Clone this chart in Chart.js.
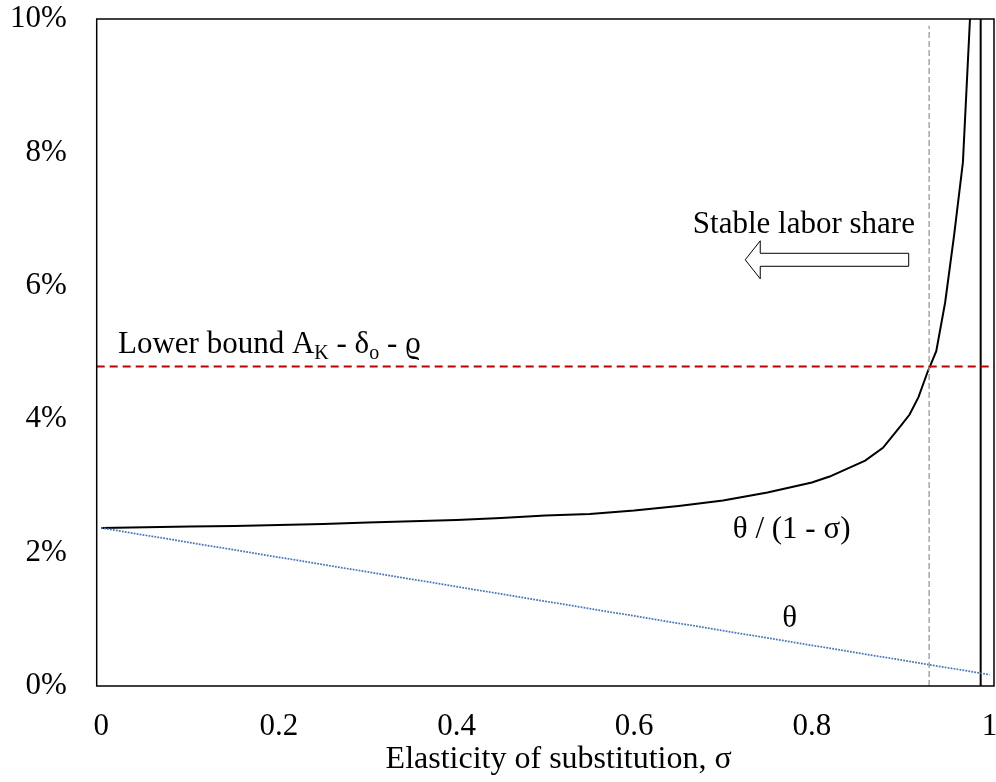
<!DOCTYPE html>
<html>
<head>
<meta charset="utf-8">
<script src="https://cdn.jsdelivr.net/npm/chart.js@4.4.1/dist/chart.umd.min.js"></script>
<style>
  html, body { margin: 0; padding: 0; background: #fff; }
</style>
</head>
<body>
<canvas id="chart" width="996" height="782"></canvas>
<script>
// theta / (1 - sigma) (percent)
const CURVE_SIGMA = [0, 0.05, 0.1, 0.15, 0.2, 0.25, 0.3, 0.35, 0.4, 0.45, 0.5, 0.55, 0.6, 0.65, 0.7, 0.75,
  0.8, 0.82, 0.84, 0.86, 0.88, 0.9, 0.91, 0.92, 0.93, 0.94, 0.95, 0.96, 0.97, 0.98];
const CURVE_VALUES = [2.37, 2.38, 2.39, 2.40, 2.415, 2.43, 2.45, 2.47, 2.49, 2.52, 2.555, 2.58, 2.63, 2.70, 2.78, 2.90,
  3.05, 3.14, 3.26, 3.38, 3.57, 3.90, 4.07, 4.33, 4.70, 5.02, 5.75, 6.75, 7.85, 10.55];

// theta (percent)
const THETA_SIGMA = [0, 0.1, 0.2, 0.3, 0.4, 0.5, 0.6, 0.7, 0.8, 0.9, 1];
const THETA_VALUES = [2.37, 2.15, 1.93, 1.71, 1.49, 1.27, 1.05, 0.83, 0.61, 0.39, 0.17];

const LOWER_BOUND = 4.79;      // A_K - delta_o - rho
const CROSS_SIGMA = 0.932;     // where the curve meets the lower bound
const CROSS_TOP = 9.9;
const ASYMPTOTE_SIGMA = 0.99;

const X_TICKS = [0, 0.2, 0.4, 0.6, 0.8, 1];
const Y_TICKS = [0, 2, 4, 6, 8, 10];
const X_MIN = -0.005, X_MAX = 1.005;
const X_TITLE = 'Elasticity of substitution, σ';

const SERIF = '"Liberation Serif", "DejaVu Serif", serif';

const pairs = (xs, ys) => xs.map((x, i) => ({ x, y: ys[i] }));
const noPad = s => { s.paddingTop = 0; s.paddingBottom = 0; s.paddingLeft = 0; s.paddingRight = 0; };

// frame, arrow, axis title and text labels
const annotations = {
  id: 'annotations',
  afterDatasetsDraw(chart) {
    const { ctx, chartArea: a, scales: { x, y } } = chart;
    ctx.save();

    ctx.strokeStyle = '#000';
    ctx.lineWidth = 1.5;
    ctx.strokeRect(a.left, a.top, a.right - a.left, a.bottom - a.top);

    // hollow arrow pointing left
    const tipX = x.getPixelForValue(0.725), tailX = x.getPixelForValue(0.909), cy = y.getPixelForValue(6.39);
    const headLen = 15, headH = 19, shaftH = 6.5;
    ctx.beginPath();
    ctx.moveTo(tipX, cy);
    ctx.lineTo(tipX + headLen, cy - headH);
    ctx.lineTo(tipX + headLen, cy - shaftH);
    ctx.lineTo(tailX, cy - shaftH);
    ctx.lineTo(tailX, cy + shaftH);
    ctx.lineTo(tipX + headLen, cy + shaftH);
    ctx.lineTo(tipX + headLen, cy + headH);
    ctx.closePath();
    ctx.fillStyle = '#fff';
    ctx.fill();
    ctx.lineWidth = 1;
    ctx.stroke();

    ctx.fillStyle = '#000';
    ctx.textBaseline = 'alphabetic';
    const rich = (parts, sx, sy, align) => {
      let px = x.getPixelForValue(sx);
      const py = y.getPixelForValue(sy);
      if (align === 'center') {
        let w = 0;
        for (const [t, sub] of parts) { ctx.font = `${sub ? 20 : 31}px ${SERIF}`; w += ctx.measureText(t).width; }
        px -= w / 2;
      }
      ctx.textAlign = 'left';
      for (const [t, sub] of parts) {
        ctx.font = `${sub ? 20 : 31}px ${SERIF}`;
        ctx.fillText(t, px, sub ? py + 6 : py);
        px += ctx.measureText(t).width;
      }
    };
    rich([['Lower bound A'], ['K', true], [' - δ'], ['o', true], [' - ϱ']], 0.019, 4.99);
    rich([['Stable labor share']], 0.666, 6.79);
    rich([['θ / (1 - σ)']], 0.711, 2.22);
    rich([['θ']], 0.775, 0.885, 'center');

    // x axis title, sits a little right of the plot centre as in the original
    ctx.font = `32px ${SERIF}`;
    ctx.textAlign = 'center';
    ctx.fillText(X_TITLE, x.getPixelForValue(0.515), a.bottom + 82);
    ctx.restore();
  }
};

new Chart(document.getElementById('chart'), {
  type: 'line',
  data: {
    datasets: [
      {
        label: 'lower bound',
        data: pairs([X_MIN, X_MAX], [LOWER_BOUND, LOWER_BOUND]),
        borderColor: '#c00000',
        borderWidth: 2,
        borderDash: [8, 5],
        pointRadius: 0,
      },
      {
        label: 'crossing',
        data: pairs([CROSS_SIGMA, CROSS_SIGMA], [0, CROSS_TOP]),
        borderColor: '#a6a6a6',
        borderWidth: 1.5,
        borderDash: [6, 3],
        pointRadius: 0,
      },
      {
        label: 'theta',
        data: pairs(THETA_SIGMA, THETA_VALUES),
        borderColor: '#4472c4',
        borderWidth: 1.75,
        borderDash: [1.75, 1.25],
        pointRadius: 0,
      },
      {
        label: 'asymptote',
        data: pairs([ASYMPTOTE_SIGMA, ASYMPTOTE_SIGMA], [0, 10]),
        borderColor: '#000',
        borderWidth: 2,
        pointRadius: 0,
      },
      {
        label: 'theta / (1 - sigma)',
        data: pairs(CURVE_SIGMA, CURVE_VALUES),
        borderColor: '#000',
        borderWidth: 2,
        pointRadius: 0,
        tension: 0,
      },
    ],
  },
  options: {
    responsive: false,
    animation: false,
    layout: { padding: { top: 19, right: 2, left: 0, bottom: 0 } },
    plugins: { legend: { display: false }, tooltip: { enabled: false } },
    scales: {
      x: {
        type: 'linear',
        min: X_MIN,
        max: X_MAX,
        afterBuildTicks: s => { s.ticks = X_TICKS.map(v => ({ value: v })); },
        afterFit: s => { s.height = 96; noPad(s); },
        grid: { display: false, drawTicks: false },
        border: { display: false },
        ticks: {
          color: '#000',
          font: { family: SERIF, size: 31 },
          padding: 22,
          maxRotation: 0,
          callback: v => String(v),
        },
      },
      y: {
        min: 0,
        max: 10,
        afterBuildTicks: s => { s.ticks = Y_TICKS.map(v => ({ value: v })); },
        afterFit: s => { s.width = 96.7; noPad(s); },
        grid: { display: false, drawTicks: false },
        border: { display: false },
        ticks: {
          color: '#000',
          font: { family: SERIF, size: 31, lineHeight: 1 },
          padding: 30,
          callback: v => v + '%',
        },
      },
    },
  },
  plugins: [annotations],
});
</script>
</body>
</html>
